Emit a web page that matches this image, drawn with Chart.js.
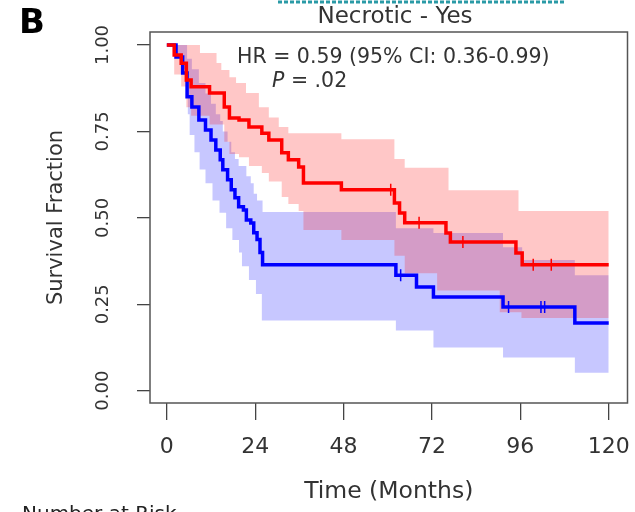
<!DOCTYPE html>
<html>
<head>
<meta charset="utf-8">
<script src="https://cdn.jsdelivr.net/npm/chart.js@4.4.1/dist/chart.umd.min.js"></script>
<style>
  html, body { margin: 0; padding: 0; background: #fff; overflow: hidden; }
  canvas { display: block; }
</style>
</head>
<body>
<canvas id="km" width="635" height="512"></canvas>
<script>
// Kaplan-Meier curves, necrotic subgroup (time in months, survival fraction)
const redTimes = [0, 2.0, 3.9, 5.3, 6.6, 11.6, 15.6, 17.0, 19.6, 22.3, 25.8, 27.7, 31.2, 33.0, 35.8, 37.1, 47.4, 61.8, 63.2, 64.6, 75.8, 77.0, 94.8, 96.5, 120];
const redSurv  = [1.0, 0.971, 0.947, 0.899, 0.879, 0.861, 0.821, 0.789, 0.783, 0.763, 0.745, 0.725, 0.688, 0.668, 0.647, 0.601, 0.581, 0.543, 0.514, 0.486, 0.456, 0.430, 0.398, 0.364, 0.364];

const blueTimes = [0, 2.5, 4.3, 5.5, 6.8, 8.7, 10.5, 12.0, 13.3, 14.5, 15.2, 16.5, 17.5, 18.5, 19.5, 20.8, 21.6, 22.8, 23.6, 24.5, 25.3, 26.0, 62.2, 67.8, 72.4, 91.3, 110.8, 120];
const blueSurv  = [1.0, 0.965, 0.919, 0.850, 0.821, 0.783, 0.754, 0.725, 0.696, 0.668, 0.639, 0.610, 0.581, 0.558, 0.532, 0.523, 0.494, 0.485, 0.457, 0.437, 0.400, 0.364, 0.334, 0.300, 0.271, 0.242, 0.196, 0.196];

// censored observations
const redCensor  = [60.8, 68.5, 80.4, 99.5, 104.4];
const blueCensor = [63.5, 92.8, 101.6, 102.6];

// 95% confidence bands
const redUpTimes = [0, 9, 13.5, 14.8, 17, 18.8, 21.5, 25, 27.7, 30.4, 33, 47.4, 61.8, 64.6, 76.5, 95.5, 120];
const redUp      = [1.0, 0.977, 0.948, 0.928, 0.907, 0.89, 0.861, 0.82, 0.79, 0.763, 0.745, 0.727, 0.67, 0.645, 0.58, 0.52, 0.52];
const redLoTimes = [0, 2.0, 3.9, 5.3, 6.6, 11.6, 15.6, 17.0, 19.6, 22.3, 25.8, 27.7, 31.2, 33.0, 35.8, 37.1, 47.4, 61.8, 64.6, 73.4, 90.4, 96.3, 120];
const redLo      = [1.0, 0.915, 0.88, 0.82, 0.795, 0.77, 0.72, 0.685, 0.675, 0.65, 0.63, 0.605, 0.56, 0.54, 0.52, 0.465, 0.436, 0.39, 0.34, 0.29, 0.227, 0.21, 0.21];

const blueUpTimes = [0, 5.5, 6.8, 8.7, 10.5, 12.0, 13.3, 14.5, 15.2, 16.5, 17.5, 18.5, 19.5, 21.6, 22.8, 23.6, 24.5, 26.0, 62.2, 72.4, 91.3, 96.5, 110.8, 120];
const blueUp      = [1.0, 0.96, 0.93, 0.89, 0.86, 0.83, 0.80, 0.78, 0.75, 0.72, 0.69, 0.67, 0.65, 0.62, 0.60, 0.57, 0.55, 0.517, 0.47, 0.456, 0.415, 0.378, 0.334, 0.334];
const blueLoTimes = [0, 2.5, 4.0, 5.4, 5.7, 6.2, 7.5, 8.9, 10.5, 12.4, 14.3, 16.1, 17.8, 19.6, 20.4, 22.3, 24.2, 25.8, 62.2, 72.4, 91.3, 110.8, 120];
const blueLo      = [1.0, 0.97, 0.93, 0.87, 0.80, 0.74, 0.69, 0.64, 0.60, 0.55, 0.515, 0.47, 0.436, 0.40, 0.36, 0.32, 0.28, 0.203, 0.174, 0.125, 0.096, 0.052, 0.052];

const xTicks = [0, 24, 48, 72, 96, 120];
const yTicks = [0, 0.25, 0.5, 0.75, 1.0];

const FONT = "'DejaVu Sans', sans-serif";
const INK = '#333';

function pts(times, vals) {
    return times.map((t, i) => ({ x: t, y: vals[i] }));
}

// survival value of a step curve at time t
function stepAt(times, vals, t) {
    let v = vals[0];
    for (let i = 0; i < times.length; i++) {
        if (times[i] <= t) v = vals[i];
    }
    return v;
}

function censorPts(list, times, vals) {
    return list.map(t => ({ x: t, y: stepAt(times, vals, t) }));
}

const framePlugin = {
    id: 'frame',
    afterDatasetsDraw(chart) {
        const { ctx, chartArea: a } = chart;
        ctx.save();
        ctx.strokeStyle = '#555';
        ctx.lineWidth = 1.5;
        ctx.strokeRect(a.left, a.top, a.right - a.left, a.bottom - a.top);
        ctx.restore();
    },
    afterDraw(chart) {
        const { ctx } = chart;
        ctx.save();
        ctx.fillStyle = '#000';
        ctx.textBaseline = 'middle';
        ctx.font = 'bold 34px ' + FONT;
        ctx.fillText('B', 19, 24);

        ctx.fillStyle = INK;
        ctx.textAlign = 'center';
        ctx.font = '23px ' + FONT;
        ctx.fillText('Necrotic - Yes', 395, 17);

        ctx.textAlign = 'left';
        ctx.font = '20.5px ' + FONT;
        ctx.fillText('HR = 0.59 (95% CI: 0.36-0.99)', 237, 58);
        ctx.font = 'italic 20.5px ' + FONT;
        ctx.fillText('P', 272, 82);
        const pw = ctx.measureText('P').width;
        ctx.font = '20.5px ' + FONT;
        ctx.fillText(' = .02', 272 + pw, 82);

        // heading cut off by the top edge
        ctx.strokeStyle = '#2a9aa6';
        ctx.lineWidth = 3;
        ctx.setLineDash([4, 2]);
        ctx.beginPath();
        ctx.moveTo(278, 2);
        ctx.lineTo(565, 2);
        ctx.stroke();
        ctx.setLineDash([]);

        // table header cut off by the bottom edge
        ctx.fillStyle = '#222';
        ctx.textBaseline = 'top';
        ctx.font = '20px ' + FONT;
        ctx.fillText('Number at Risk', 22, 505);
        ctx.restore();
    }
};

const stepLine = (data, color) => ({
    data: data,
    stepped: true,
    borderColor: color,
    borderWidth: 3.5,
    pointRadius: 0,
    fill: false,
    borderJoinStyle: 'miter'
});

const censorSet = (data, color) => ({
    data: data,
    showLine: false,
    pointStyle: 'line',
    rotation: 90,
    pointRadius: 6,
    pointBorderWidth: 1.5,
    pointBorderColor: color,
    borderColor: color
});

const band = (data, color, fill) => ({
    data: data,
    stepped: true,
    borderWidth: 0,
    borderColor: 'rgba(0,0,0,0)',
    backgroundColor: color,
    pointRadius: 0,
    fill: fill
});

new Chart(document.getElementById('km'), {
    type: 'line',
    data: {
        datasets: [
            stepLine(pts(redTimes, redSurv), '#ff0000'),
            stepLine(pts(blueTimes, blueSurv), '#0000ff'),
            censorSet(censorPts(redCensor, redTimes, redSurv), '#ff0000'),
            censorSet(censorPts(blueCensor, blueTimes, blueSurv), '#0000ff'),
            band(pts(redUpTimes, redUp), 'rgba(255,0,0,0.22)', '+1'),
            band(pts(redLoTimes, redLo), 'rgba(0,0,0,0)', false),
            band(pts(blueUpTimes, blueUp), 'rgba(0,0,255,0.22)', '+1'),
            band(pts(blueLoTimes, blueLo), 'rgba(0,0,0,0)', false)
        ]
    },
    options: {
        responsive: false,
        animation: false,
        layout: { padding: { top: 32, right: 1, left: 0, bottom: 0 } },
        plugins: {
            legend: { display: false },
            tooltip: { enabled: false }
        },
        scales: {
            x: {
                type: 'linear',
                min: -4.57,
                max: 125.1,
                afterBuildTicks: (s) => { s.ticks = xTicks.map(v => ({ value: v })); },
                afterFit: (s) => { s.height = 109; s.paddingLeft = 0; s.paddingRight = 0; },
                border: { display: false },
                grid: { drawOnChartArea: false, drawTicks: true, tickLength: 17, color: '#444', lineWidth: 1.3 },
                ticks: { color: INK, font: { family: FONT, size: 22 }, padding: 14, maxRotation: 0 },
                title: { display: true, text: 'Time (Months)', color: INK, font: { family: FONT, size: 23.5 }, padding: { top: 0, bottom: 6 } }
            },
            y: {
                type: 'linear',
                min: -0.0356,
                max: 1.0376,
                afterBuildTicks: (s) => { s.ticks = yTicks.map(v => ({ value: v })); },
                afterFit: (s) => { s.width = 150; s.paddingTop = 0; s.paddingBottom = 0; },
                border: { display: false },
                grid: { drawOnChartArea: false, drawTicks: true, tickLength: 13, color: '#444', lineWidth: 1.3 },
                ticks: {
                    color: INK,
                    font: { family: FONT, size: 18 },
                    padding: 14,
                    minRotation: 90,
                    maxRotation: 90,
                    crossAlign: 'center',
                    callback: (v) => Number(v).toFixed(2)
                },
                title: { display: true, text: 'Survival Fraction', color: INK, font: { family: FONT, size: 21 }, padding: { top: 44, bottom: 0 } }
            }
        }
    },
    plugins: [framePlugin]
});
</script>
</body>
</html>
